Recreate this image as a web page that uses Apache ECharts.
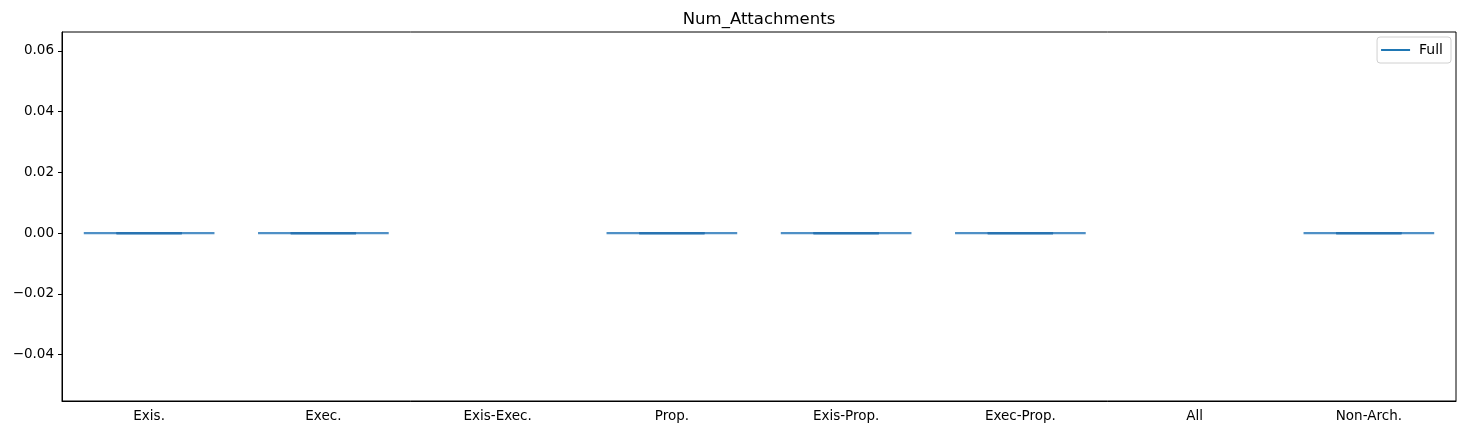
<!DOCTYPE html>
<html>
<head>
<meta charset="utf-8">
<script src="https://cdn.jsdelivr.net/npm/echarts@6/dist/echarts.min.js"></script>
<style>
html,body{margin:0;padding:0;background:#fff;}
#chart{width:1466px;height:435px;}
</style>
</head>
<body>
<div id="chart"></div>
<script>
const categories = ['Exis.', 'Exec.', 'Exis-Exec.', 'Prop.', 'Exis-Prop.', 'Exec-Prop.', 'All', 'Non-Arch.'];
// per-category min / max of the "Full" distribution (null = no data)
const minValues = [0, 0, null, 0, 0, 0, null, 0];
const maxValues = [0, 0, null, 0, 0, 0, null, 0];
const yTicks = [-0.04, -0.02, 0.00, 0.02, 0.04, 0.06];
const yMin = -0.0553;
const yMax = 0.0662;

const seriesData = categories.map((c, i) => [i, minValues[i], maxValues[i]]).filter(d => d[1] !== null);

const chart = echarts.init(document.getElementById('chart'), null, {renderer: 'canvas'});
const font = 'DejaVu Sans';

function renderViolin(params, api) {
  const idx = api.value(0);
  const lo = api.value(1);
  const hi = api.value(2);
  const band = api.size([1, 0])[0];
  const pLo = api.coord([idx, lo]);
  const pHi = api.coord([idx, hi]);
  const bodyHalf = band * 0.375;
  const barHalf = band * 0.1875;
  const children = [];
  children.push({
    type: 'polygon',
    shape: {points: [[pLo[0] - bodyHalf, pLo[1]], [pLo[0] + bodyHalf, pLo[1]], [pHi[0] + bodyHalf, pHi[1]], [pHi[0] - bodyHalf, pHi[1]]]},
    style: {fill: 'rgba(31,119,180,0.3)', stroke: '#4f90c6', lineWidth: 2.2}
  });
  children.push({type: 'line', shape: {x1: pLo[0] - barHalf, y1: pLo[1], x2: pLo[0] + barHalf, y2: pLo[1]}, style: {stroke: '#2873b1', lineWidth: 2.2}});
  children.push({type: 'line', shape: {x1: pHi[0] - barHalf, y1: pHi[1], x2: pHi[0] + barHalf, y2: pHi[1]}, style: {stroke: '#2873b1', lineWidth: 2.2}});
  children.push({type: 'line', shape: {x1: pLo[0], y1: pLo[1], x2: pHi[0], y2: pHi[1]}, style: {stroke: '#2873b1', lineWidth: 2.2}});
  return {type: 'group', children: children};
}

chart.setOption({
  animation: false,
  backgroundColor: '#ffffff',
  title: {
    text: 'Num_Attachments',
    left: 754,
    textAlign: 'center',
    top: 6,
    textStyle: {fontFamily: font, fontSize: 16.5, fontWeight: 'normal', color: '#000'}
  },
  legend: {
    right: 15,
    top: 37,
    padding: [6, 8, 6, 4],
    borderColor: '#d0d0d0',
    borderWidth: 1,
    borderRadius: 3,
    itemWidth: 29,
    itemHeight: 2,
    itemGap: 8,
    icon: 'rect',
    textStyle: {fontFamily: font, fontSize: 14, color: '#000', padding: [0, 0, 0, 4]},
    data: [{name: 'Full', itemStyle: {color: '#1f77b4'}}]
  },
  grid: {left: 62, right: 10, top: 32, bottom: 34},
  xAxis: {
    type: 'category',
    data: categories,
    boundaryGap: true,
    axisLine: {onZero: false, lineStyle: {color: '#000', width: 1}},
    axisTick: {alignWithLabel: true, length: 4, lineStyle: {color: '#000'}},
    axisLabel: {fontFamily: font, fontSize: 13.5, color: '#000', margin: 8},
    splitLine: {show: false}
  },
  yAxis: {
    type: 'value',
    min: yMin,
    max: yMax,
    axisLine: {show: true, onZero: false, lineStyle: {color: '#000', width: 1}},
    axisTick: {show: true, length: 4, lineStyle: {color: '#000'}, customValues: yTicks},
    axisLabel: {
      fontFamily: font, fontSize: 13.5, color: '#000', margin: 8,
      customValues: yTicks,
      formatter: v => (v < 0 ? '\u2212' : '') + Math.abs(v).toFixed(2)
    },
    splitLine: {show: false}
  },
  series: [{
    name: 'Full',
    type: 'custom',
    renderItem: renderViolin,
    itemStyle: {color: '#1f77b4'},
    encode: {x: 0, y: [1, 2]},
    data: seriesData,
    clip: true
  }],
  graphic: [{
    type: 'rect',
    shape: {x: 62, y: 32, width: 1394, height: 369},
    style: {fill: 'none', stroke: '#000', lineWidth: 1},
    silent: true,
    z: 10
  }]
});
</script>
</body>
</html>
